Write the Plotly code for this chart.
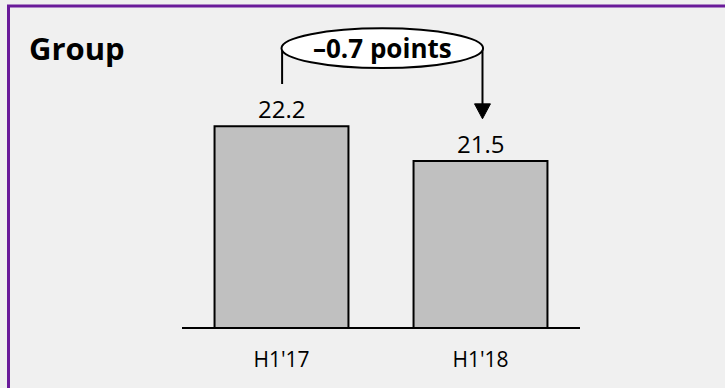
import plotly.graph_objects as go

# ---- data ----
categories = ["H1'17", "H1'18"]
values = [22.2, 21.5]
change_label = "–0.7 points"
title_text = "Group"

# ---- figure geometry ----
W, H = 725, 388
M_L, M_R, M_T, M_B = 182, 145, 0, 61
PLOT_W = W - M_L - M_R
PLOT_H = H - M_T - M_B
Y_MIN, Y_MAX = 18.16, 24.74
X_MIN, X_MAX = -0.5, 1.5

FONT = "Open Sans"
PURPLE = "#6A1B9A"
BG = "#F0F0F0"


def px_to_paper_x(px):
    return (px - M_L) / PLOT_W


def px_to_paper_y(py):
    return (H - M_B - py) / PLOT_H


xpos = list(range(len(categories)))

fig = go.Figure()
fig.add_trace(go.Bar(
    x=xpos,
    y=values,
    width=0.673,
    marker=dict(color="#C0C0C0", line=dict(color="#000000", width=2)),
    hoverinfo="skip",
))

# value labels above each bar
annotations = []
for i, v in enumerate(values):
    annotations.append(dict(
        x=xpos[i], y=v, xref="x", yref="y",
        text=f"{v:.1f}", showarrow=False,
        xanchor="center", yanchor="bottom", yshift=-1,
        font=dict(family=FONT, size=24, color="#000000"),
    ))

# heading
annotations.append(dict(
    x=px_to_paper_x(27), y=px_to_paper_y(48), xref="paper", yref="paper",
    text=f"<b>{title_text}</b>", showarrow=False,
    xanchor="left", yanchor="middle",
    font=dict(family=FONT, size=31, color="#000000"),
))

# change bubble between the two bars
ell_y_mid = 23.77
ell_half_h = 0.40
lead_gap = 0.85        # gap between a bar's value and the connector end
head_len = 0.30        # arrowhead length (data units)
head_half_w = 0.04     # arrowhead half width (data units)
x_left = xpos[0] + 0.003
x_right = xpos[1] + 0.01

shapes = [
    # connector leaving the first bar
    dict(type="line", xref="x", yref="y",
         x0=x_left, x1=x_left, y0=ell_y_mid, y1=values[0] + lead_gap,
         line=dict(color="#000000", width=2)),
    # connector into the second bar
    dict(type="line", xref="x", yref="y",
         x0=x_right, x1=x_right, y0=ell_y_mid, y1=values[1] + lead_gap + head_len * 0.5,
         line=dict(color="#000000", width=2)),
    # arrowhead
    dict(type="path", xref="x", yref="y",
         path=(f"M {x_right - head_half_w} {values[1] + lead_gap + head_len} "
               f"L {x_right + head_half_w} {values[1] + lead_gap + head_len} "
               f"L {x_right} {values[1] + lead_gap} Z"),
         fillcolor="#000000", line=dict(color="#000000", width=1)),
    # bubble
    dict(type="circle", xref="x", yref="y",
         x0=xpos[0], x1=xpos[1] + 0.013,
         y0=ell_y_mid - ell_half_h, y1=ell_y_mid + ell_half_h,
         fillcolor="#FFFFFF", line=dict(color="#000000", width=2)),
    # frame
    dict(type="rect", xref="paper", yref="paper",
         x0=px_to_paper_x(8.5), x1=px_to_paper_x(W + 20),
         y0=px_to_paper_y(H + 20), y1=px_to_paper_y(6),
         line=dict(color=PURPLE, width=3), fillcolor="rgba(0,0,0,0)",
         layer="above"),
]

annotations.append(dict(
    x=(xpos[0] + xpos[1] + 0.013) / 2, y=ell_y_mid, xref="x", yref="y",
    text=f"<b>{change_label}</b>", showarrow=False,
    xanchor="center", yanchor="middle",
    font=dict(family=FONT, size=26, color="#000000"),
))

fig.update_layout(
    width=W, height=H, autosize=False,
    margin=dict(l=M_L, r=M_R, t=M_T, b=M_B, pad=0),
    paper_bgcolor=BG, plot_bgcolor=BG,
    showlegend=False,
    shapes=shapes,
    annotations=annotations,
    xaxis=dict(
        range=[X_MIN, X_MAX], tickvals=xpos, ticktext=categories,
        showgrid=False, zeroline=False, showline=True,
        linecolor="#000000", linewidth=2, ticks="",
        tickfont=dict(family=FONT, size=21, color="#000000"),
        ticklabelstandoff=13, fixedrange=True,
    ),
    yaxis=dict(
        range=[Y_MIN, Y_MAX], visible=False, showgrid=False,
        zeroline=False, fixedrange=True,
    ),
)

fig.write_html("out.html")
